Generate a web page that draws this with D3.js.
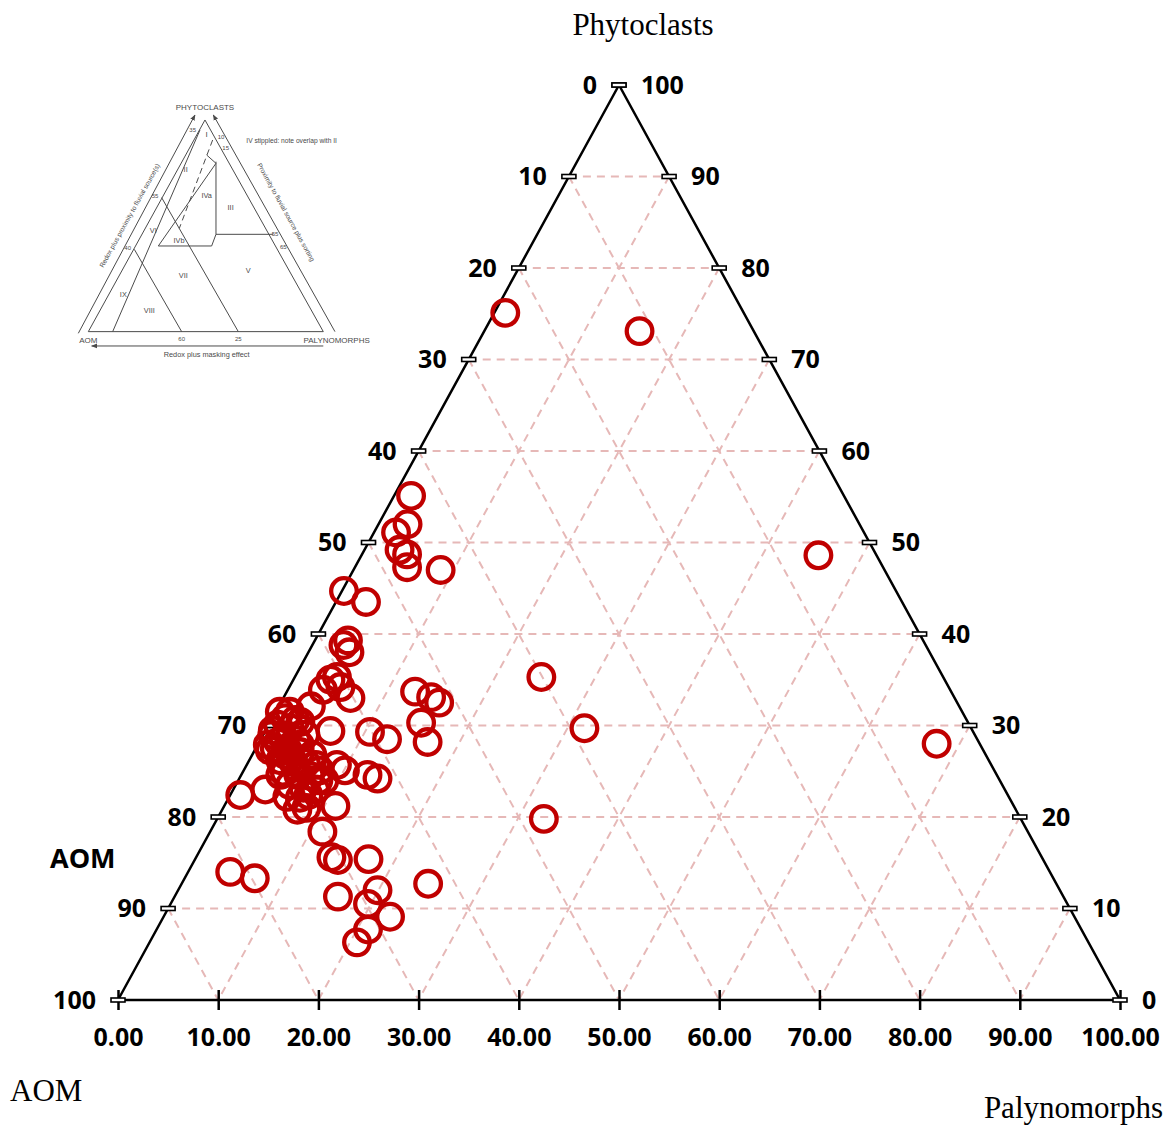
<!DOCTYPE html>
<html><head><meta charset="utf-8">
<script src="https://cdn.jsdelivr.net/npm/d3@7"></script>
<style>body{margin:0;background:#fff}svg{display:block}</style>
</head><body>
<svg id="c" width="1169" height="1127"></svg>
<script>
// ---- data (percentages) ----
const phytoclasts = [75.1,73.1,48.6,28.0,35.3,29.7,19.8,12.7,55.1,52.0,51.1,49.2,48.7,47.3,47.0,44.7,43.5,39.3,38.8,38.0,35.0,35.3,33.9,34.2,33.0,32.1,33.7,33.1,32.5,30.3,28.2,29.3,28.5,29.4,25.7,25.1,24.6,24.2,22.4,23.0,20.8,21.0,21.2,18.4,15.6,15.3,15.4,14.0,13.3,12.0,11.3,10.5,9.1,7.7,6.3,
  30.8,30.1,29.7,29.0,28.6,28.4,27.5,27.3,27.1,26.2,26.0,25.9,25.7,24.9,24.6,24.5,23.5,23.2,23.0,22.1,25.1,26.8,24.0,29.5,27.9,31.5,30.6,22.2,
  31.5,30.4,29.0,27.9,28.2,26.8,25.4,24.6,22.4,24.0,27.3];
const palynomorphs = [1.1,15.5,45.6,67.7,24.6,31.7,32.6,24.6,1.7,2.9,2.2,3.5,4.5,5.2,8.7,0.2,3.0,3.3,3.1,4.1,3.7,4.2,3.5,5.1,6.7,3.2,12.8,14.7,15.8,15.1,16.8,10.5,12.6,6.5,9.0,10.1,12.6,13.8,1.0,3.2,7.5,8.3,11.1,11.2,13.5,14.3,17.3,4.2,7.0,19.9,16.3,19.7,22.6,21.1,20.7,
  1.3,0.9,2.3,0.9,2.2,3.6,1.9,3.3,4.6,3.1,4.5,5.8,6.9,4.2,5.7,6.9,5.4,6.9,8.2,7.1,7.6,6.0,8.6,0.7,1.0,0.4,2.4,5.8,
  1.4,3.0,4.2,4.2,1.9,3.3,5.0,3.9,7.8,8.0,1.5];
const aom = phytoclasts.map((p,i)=>+(100-p-palynomorphs[i]).toFixed(1));
const levels = [0,10,20,30,40,50,60,70,80,90,100];
const bottomTickLabels = levels.map(v=>v.toFixed(2));
const leftTickLabels = levels.map(v=>String(100-v));   // placed at phytoclast level v on the AOM side
const rightTickLabels = levels.map(v=>String(v));      // phytoclast level v on the right side
const gridLevels = [10,20,30,40,50,60,70,80,90];

const svg = d3.select('#c');
const xS = d3.scaleLinear().domain([0,100]).range([118,1120]);
const yS = d3.scaleLinear().domain([0,100]).range([1000,85]);
function pos(a,p,q){const s=a+p+q; p=p*100/s; q=q*100/s; return [xS(q+p/2), yS(p)];}

// ---- inset (scanned reference diagram) ----
const inset = svg.append('g').attr('transform','translate(20,60) scale(0.3333)');
const ink = '#4a4a4a';
inset.append('defs').append('marker').attr('id','ah').attr('viewBox','0 0 10 10').attr('refX',9).attr('refY',5)
  .attr('markerWidth',6).attr('markerHeight',6).attr('orient','auto-start-reverse')
  .append('path').attr('d','M0,1 L10,5 L0,9 Z').attr('fill',ink);
inset.append('path').attr('d','M555,180 L205,815 L910,815 Z').attr('fill','none').attr('stroke',ink).attr('stroke-width',3);
const insetLines = [[540,210,278,815],[425,413,655,815],[343,568,485,815],[588,305,588,523],[588,523,760,523],
  [588,523,575,558],[575,558,415,558],[588,310,415,558],[560,285,588,310]];
insetLines.forEach(l=>inset.append('line').attr('x1',l[0]).attr('y1',l[1]).attr('x2',l[2]).attr('y2',l[3]).attr('stroke',ink).attr('stroke-width',3));
inset.append('line').attr('x1',578).attr('y1',240).attr('x2',478).attr('y2',505).attr('stroke',ink).attr('stroke-width',3).attr('stroke-dasharray','18,12');
[[175,820,525,165],[945,815,580,165],[910,858,215,858]].forEach(l=>inset.append('line').attr('x1',l[0]).attr('y1',l[1]).attr('x2',l[2]).attr('y2',l[3])
  .attr('stroke',ink).attr('stroke-width',3).attr('marker-end','url(#ah)'));
const insetTexts = [['PHYTOCLASTS',555,150,24],['AOM',205,850,24],['PALYNOMORPHS',950,850,24],['Redox plus masking effect',560,890,22],
  ['IV  stippled: note overlap with II',815,250,20],['35',518,215,18],['10',603,238,18],['15',617,270,18],['55',405,415,18],['40',323,570,18],
  ['55',765,527,18],['65',790,568,18],['60',485,842,18],['25',655,842,18],
  ['I',560,232,24],['II',497,337,22],['IVa',560,415,22],['III',632,450,22],['VI',400,520,22],['IVb',477,550,22],['VII',490,655,22],['V',685,640,22],['IX',310,710,22],['VIII',388,760,22]];
insetTexts.forEach(t=>inset.append('text').attr('x',t[1]).attr('y',t[2]).attr('text-anchor','middle').attr('font-family','Liberation Sans, Arial, sans-serif')
  .attr('font-size',t[3]).attr('fill',ink).text(t[0]));
inset.append('text').attr('transform','translate(335,470) rotate(-61)').attr('text-anchor','middle').attr('font-family','Liberation Sans, Arial, sans-serif')
  .attr('font-size',20).attr('fill',ink).text('Redox plus proximity to fluvial source(s)');
inset.append('text').attr('transform','translate(792,460) rotate(61)').attr('text-anchor','middle').attr('font-family','Liberation Sans, Arial, sans-serif')
  .attr('font-size',20).attr('fill',ink).text('Proximity to fluvial source plus sorting');

// ---- grid ----
const grid = svg.append('g').attr('stroke','#e6b8b7').attr('stroke-width',2).attr('stroke-dasharray','8,6').attr('fill','none');
const line = d3.line();
gridLevels.forEach(k=>{
  grid.append('path').attr('d',line([pos(100-k,k,0),pos(0,k,100-k)]));
  grid.append('path').attr('d',line([pos(k,100-k,0),pos(k,0,100-k)]));
  grid.append('path').attr('d',line([pos(0,100-k,k),pos(100-k,0,k)]));
});

// ---- triangle frame ----
svg.append('path').attr('d',line([pos(100,0,0),pos(0,100,0),pos(0,0,100)])+'Z').attr('fill','none').attr('stroke','#000').attr('stroke-width',2.5);

// bottom axis
const ax = svg.append('g').attr('transform',`translate(0,${yS(0)})`)
  .call(d3.axisBottom(xS).tickValues(levels).tickFormat((d,i)=>bottomTickLabels[i]).tickSize(10));
ax.select('.domain').remove();
ax.selectAll('.tick line').attr('y1',-10).attr('y2',10).attr('stroke','#000').attr('stroke-width',2.5);
ax.selectAll('.tick text').attr('y',37).attr('dy','0.35em').attr('font-family','Open Sans, sans-serif').attr('font-weight','bold').attr('font-size',25).attr('fill','#000');

// side ticks + labels
const labFont = 'Open Sans, sans-serif';
levels.forEach((v,i)=>{
  const L = pos(100-v,v,0), R = pos(0,v,100-v);
  [L,R].forEach(P=>svg.append('rect').attr('x',P[0]-7).attr('y',P[1]-2).attr('width',14).attr('height',4)
    .attr('fill','#fff').attr('stroke','#000').attr('stroke-width',1.6));
  svg.append('text').attr('x',L[0]-22).attr('y',L[1]).attr('dy','0.35em').attr('text-anchor','end')
    .attr('font-family',labFont).attr('font-weight','bold').attr('font-size',25).text(leftTickLabels[i]);
  svg.append('text').attr('x',R[0]+22).attr('y',R[1]).attr('dy','0.35em').attr('text-anchor','start')
    .attr('font-family',labFont).attr('font-weight','bold').attr('font-size',25).text(rightTickLabels[i]);
});

// axis titles
svg.append('text').attr('x',643).attr('y',35).attr('text-anchor','middle').attr('font-family','Liberation Serif, Times New Roman, serif').attr('font-size',31).text('Phytoclasts');
svg.append('text').attr('x',10).attr('y',1101).attr('font-family','Liberation Serif, Times New Roman, serif').attr('font-size',31).text('AOM');
svg.append('text').attr('x',1163).attr('y',1118).attr('text-anchor','end').attr('font-family','Liberation Serif, Times New Roman, serif').attr('font-size',31).text('Palynomorphs');
svg.append('text').attr('x',50).attr('y',868).attr('font-family','Open Sans, sans-serif').attr('font-weight','bold').attr('font-size',27).text('AOM');

// ---- points ----
svg.append('g').selectAll('circle').data(phytoclasts.map((p,i)=>pos(aom[i],p,palynomorphs[i]))).join('circle')
  .attr('cx',d=>d[0]).attr('cy',d=>d[1]).attr('r',12.8).attr('fill','none').attr('stroke','#c00000').attr('stroke-width',4.3);
</script>
</body></html>
